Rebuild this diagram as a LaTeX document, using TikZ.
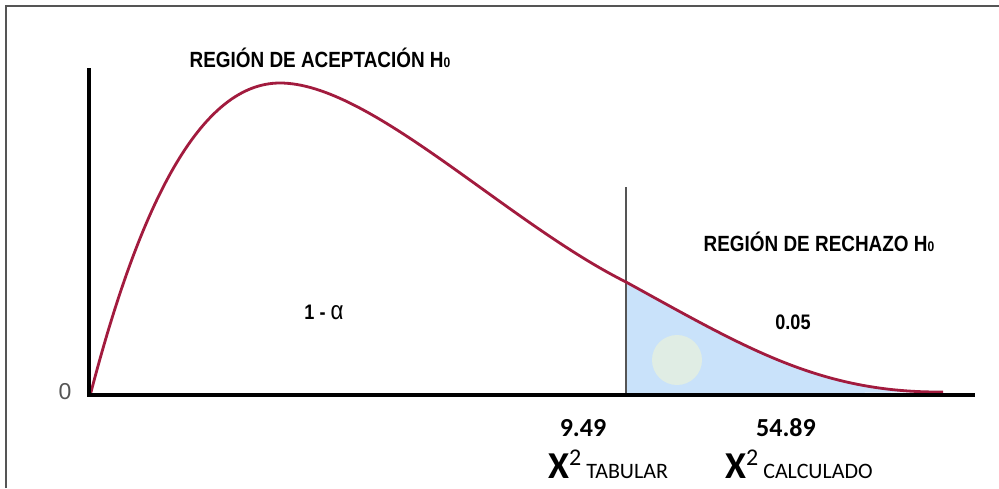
\documentclass[tikz,border=0pt]{standalone}
\usepackage{fontspec}
\setmainfont{Liberation Sans}
\newfontfamily\narrowsf{Liberation Sans}[FakeStretch=0.86]
\newfontfamily\calibrisf{Carlito}
\usepackage{xcolor}
\usetikzlibrary{positioning}

\definecolor{curveRed}{RGB}{162,27,62}
\definecolor{rejectBlue}{RGB}{201,226,250}
\definecolor{spotGreen}{RGB}{224,237,228}
\definecolor{frameGray}{RGB}{85,85,85}

\newcommand\Hnull{H{\fontsize{14}{14}\selectfont 0}}
\newcommand\chisq{{\fontsize{38}{38}\selectfont\bfseries X}\raisebox{13pt}{\fontsize{24}{24}\selectfont 2}}

\begin{document}
\begin{tikzpicture}[x=1pt, y=-1pt,
        RG/.style  = {font=\narrowsf\bfseries\fontsize{22}{24}\selectfont, inner sep=0pt},
        VL/.style  = {font=\narrowsf\bfseries\fontsize{21}{23}\selectfont, inner sep=0pt},
        NUM/.style = {font=\calibrisf\bfseries\fontsize{26}{28}\selectfont, inner sep=0pt, anchor=base},
        CHI/.style = {font=\calibrisf\fontsize{22}{24}\selectfont, inner sep=0pt, anchor=base west},
        AX/.style  = {line width=4pt, black},
        CV/.style  = {line width=2.8pt, curveRed, line join=round} ]

\useasboundingbox (0,0) rectangle (999,488);

% frame, clipped by the page on the right and at the bottom
\draw[frameGray, line width=2.2pt] (6,488) -- (6,6) -- (999,6);

\coordinate (O)     at (89,395);
\coordinate (yTop)  at (89,68);
\coordinate (xEnd)  at (975,395);
\coordinate (crit)  at (626,395);
\coordinate (critT) at (626,187);
\coordinate (start) at (90,396);
\coordinate (peak)  at (280,83);
\coordinate (cut)   at (626,282);
\coordinate (tail)  at (943,392);

% rejection area
\fill[rejectBlue] (crit) -- (cut) .. controls (746,348) and (820,393) .. (tail) -- cycle;
\fill[spotGreen] (677,360) circle (25);

\draw[frameGray, line width=1.4pt] (critT) -- (crit);

% chi-square curve
\draw[CV] (start) .. controls (135,222) and (195,83) .. (peak)
                  .. controls (370,83) and (506,222) .. (cut)
                  .. controls (746,348) and (820,393) .. (tail);

\draw[AX] (yTop) -- (O) -- (xEnd);

\node (zero) [font=\fontsize{23}{25}\selectfont, text=frameGray, inner sep=0pt]
      at (65,392) {0};

\node (acc)  [RG] at (320,58)  {REGIÓN DE ACEPTACIÓN \Hnull};
\node (rech) [RG] at (819,242) {REGIÓN DE RECHAZO \Hnull};
\node (conf) [VL] at (324,312) {1 - {\fontsize{26}{26}\selectfont\mdseries α}};
\node (alph) [VL] at (793,322) {0.05};

\node (tab)  [NUM] at (583,436) {9.49};
\node (calc) [NUM] at (786,436) {54.89};
\node (chiT) [CHI] at (548,478) {\chisq\ TABULAR};
\node (chiC) [CHI] at (725,478) {\chisq\ CALCULADO};
\end{tikzpicture}
\end{document}
